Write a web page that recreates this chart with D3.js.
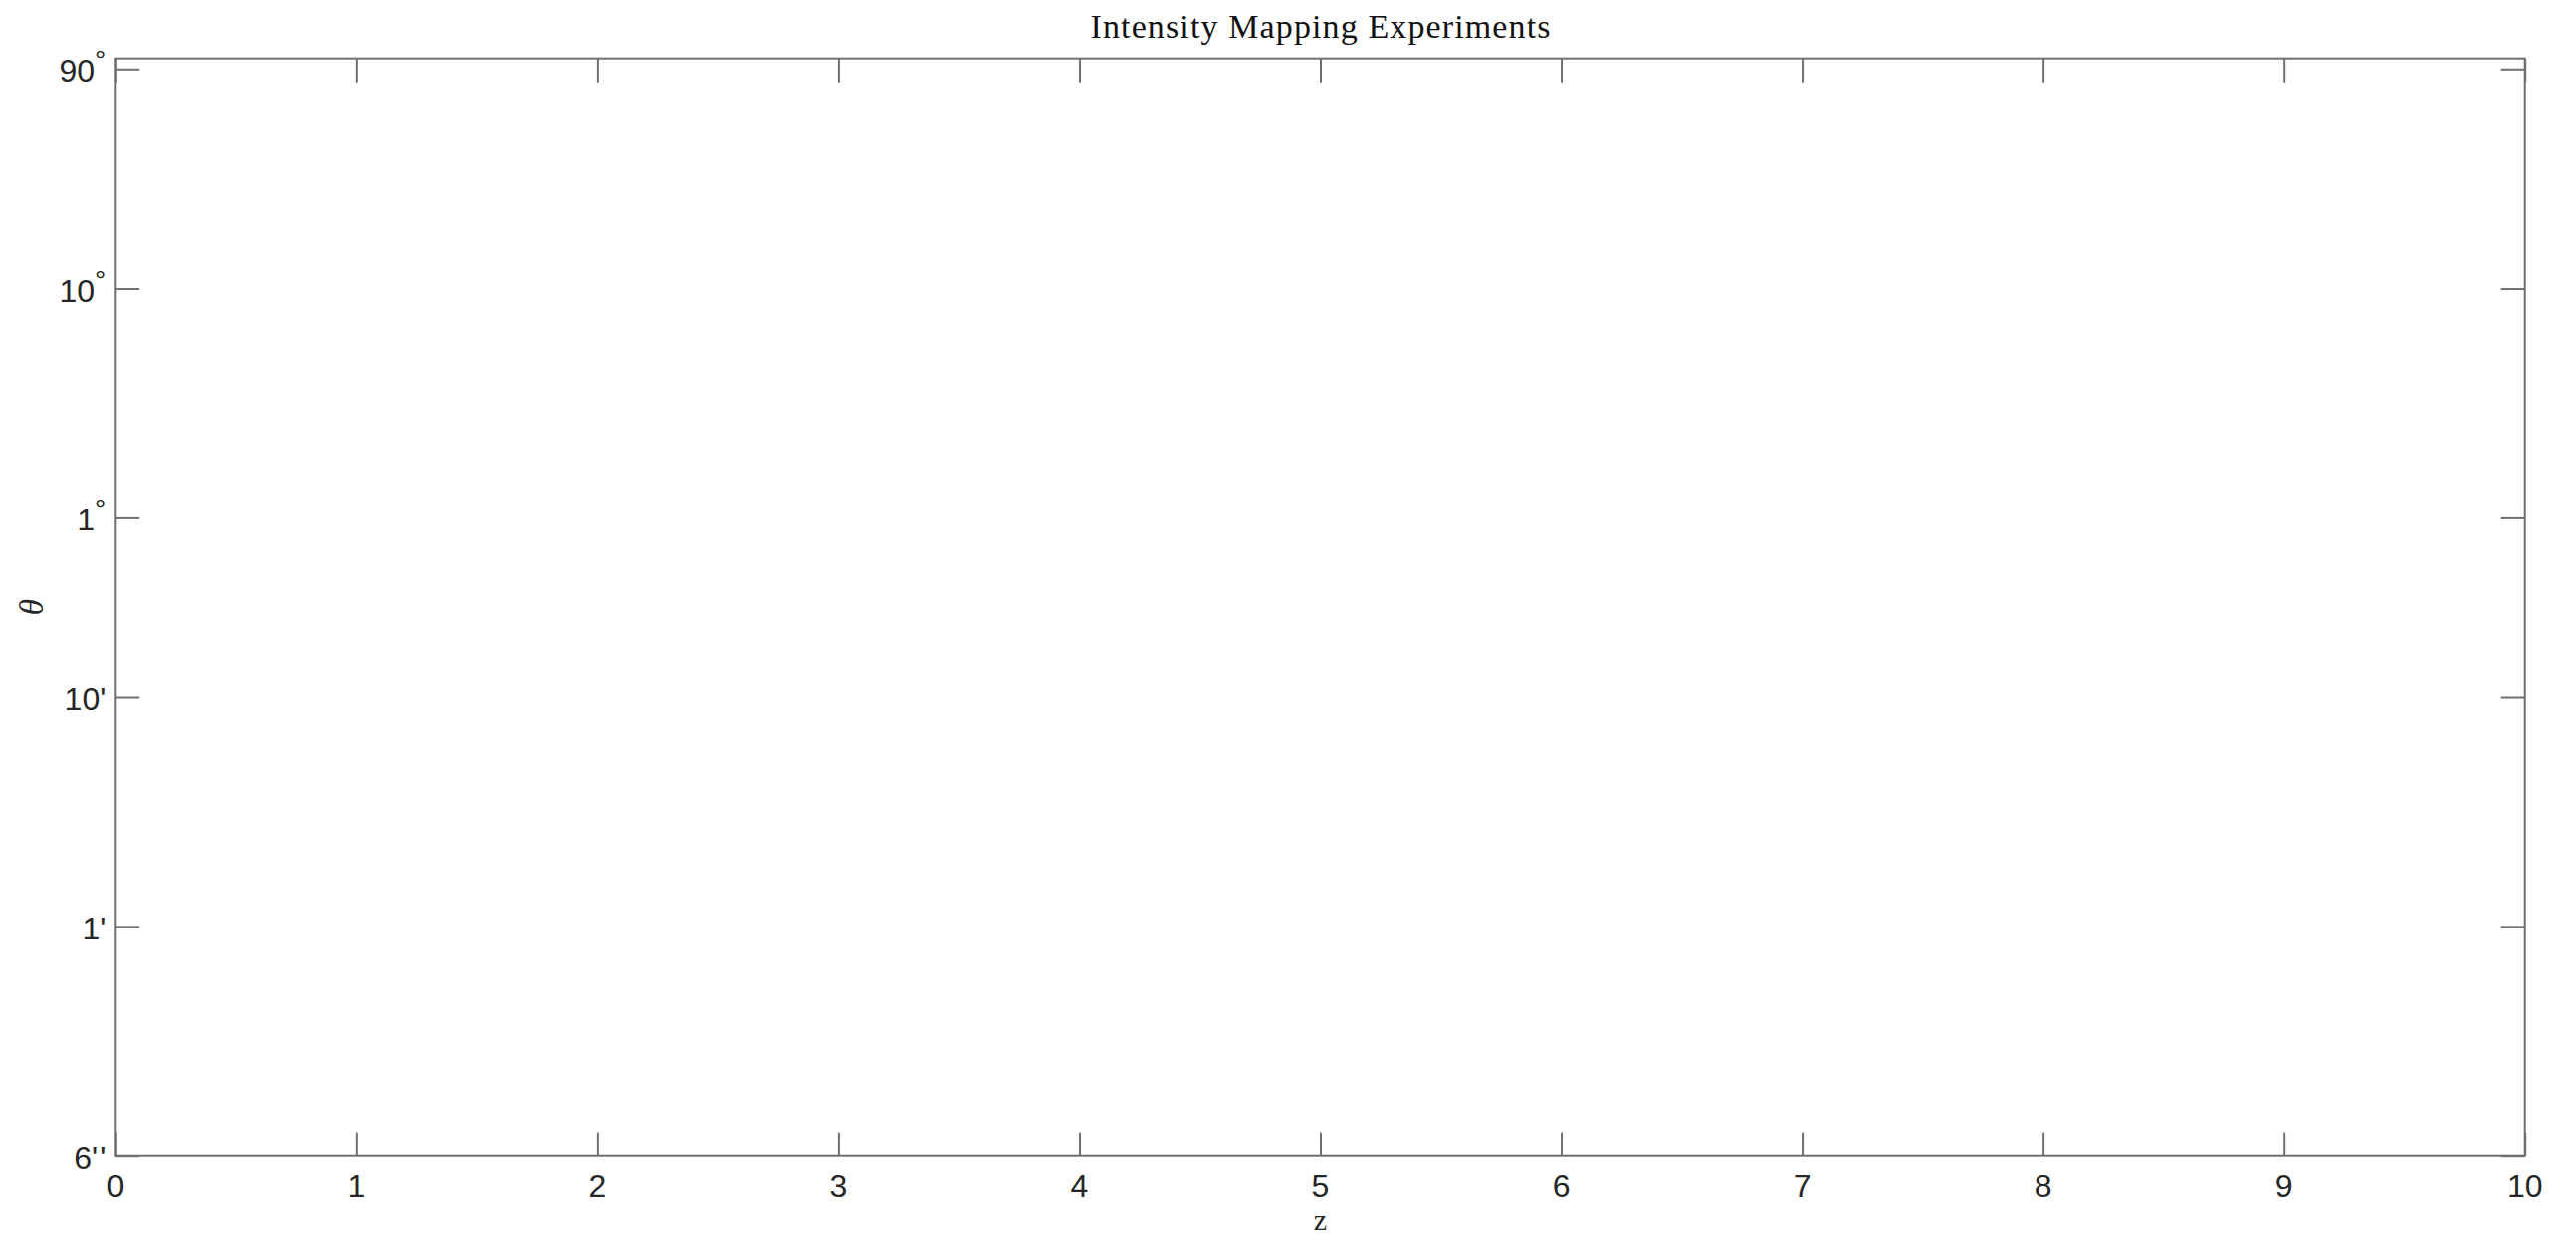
<!DOCTYPE html>
<html>
<head>
<meta charset="utf-8">
<script src="https://cdn.jsdelivr.net/npm/d3@7"></script>
<style>
  html, body { margin: 0; padding: 0; background: #fff; }
  svg { display: block; }
</style>
</head>
<body>
<svg id="chart" width="2588" height="1244"></svg>
<script>
// ---- data ----
const titleText = "Intensity Mapping Experiments";
const xLabel = "z";
const yLabel = "θ";
const xDomain = [0, 10];
const xTicks = [0, 1, 2, 3, 4, 5, 6, 7, 8, 9, 10];
// y in degrees: 6 arcsec .. 100 deg (log)
const yDomain = [6 / 3600, 100];
const yTickValues = [90, 10, 1, 10 / 60, 1 / 60, 6 / 3600];
const yTickNums = ["90", "10", "1", "10", "1", "6"];
const yTickUnits = ["°", "°", "°", "'", "'", "''"];
const experiments = []; // no experiments plotted in the reference

// ---- layout ----
const svg = d3.select("#chart");
const m = { left: 116.3, right: 2536.7, top: 58.7, bottom: 1161.7 };
const x = d3.scaleLinear().domain(xDomain).range([m.left, m.right]);
const y = d3.scaleLog().domain(yDomain).range([m.bottom, m.top]);

const axisColor = "#6f6f6f";
const textColor = "#262626";
const tickLen = 24;

// box
svg.append("rect")
  .attr("x", m.left).attr("y", m.top)
  .attr("width", m.right - m.left).attr("height", m.bottom - m.top)
  .attr("fill", "none").attr("stroke", axisColor).attr("stroke-width", 2);

function styleAxis(g) {
  g.select(".domain").remove();
  g.selectAll(".tick line").attr("stroke", axisColor).attr("stroke-width", 2);
}

// bottom axis
const gx = svg.append("g").attr("transform", `translate(0,${m.bottom})`)
  .call(d3.axisBottom(x).tickValues(xTicks).tickSize(-tickLen).tickFormat(""));
styleAxis(gx);
// top axis
const gxt = svg.append("g").attr("transform", `translate(0,${m.top})`)
  .call(d3.axisTop(x).tickValues(xTicks).tickSize(-tickLen).tickFormat(""));
styleAxis(gxt);
// left axis
const gy = svg.append("g").attr("transform", `translate(${m.left},0)`)
  .call(d3.axisLeft(y).tickValues(yTickValues).tickSize(-tickLen).tickFormat(""));
styleAxis(gy);
// right axis
const gyr = svg.append("g").attr("transform", `translate(${m.right},0)`)
  .call(d3.axisRight(y).tickValues(yTickValues).tickSize(-tickLen).tickFormat(""));
styleAxis(gyr);

// x tick labels
svg.append("g").selectAll("text").data(xTicks).join("text")
  .attr("x", d => x(d))
  .attr("y", m.bottom + 41)
  .attr("text-anchor", "middle")
  .attr("font-family", "Liberation Sans, Arial, sans-serif")
  .attr("font-size", 32)
  .attr("fill", textColor)
  .text(d => d);

// y tick labels
const yl = svg.append("g").selectAll("text").data(yTickValues).join("text")
  .attr("x", m.left - 10)
  .attr("y", d => y(d) + 13)
  .attr("text-anchor", "end")
  .attr("font-family", "Liberation Sans, Arial, sans-serif")
  .attr("font-size", 32)
  .attr("fill", textColor);
yl.each(function(d, i) {
  const t = d3.select(this);
  t.append("tspan").text(yTickNums[i]);
  if (yTickUnits[i] === "°") {
    t.append("tspan").attr("font-size", 28).attr("dy", -12).text("°");
  } else if (yTickUnits[i] === "''") {
    t.append("tspan").text("'");
    t.append("tspan").attr("dx", 2).text("'");
  } else {
    t.append("tspan").text(yTickUnits[i]);
  }
});

// title
svg.append("text")
  .attr("x", (m.left + m.right) / 2)
  .attr("y", 38)
  .attr("text-anchor", "middle")
  .attr("font-family", "Liberation Serif, Times New Roman, serif")
  .attr("font-size", 34)
  .attr("textLength", 462)
  .attr("lengthAdjust", "spacing")
  .attr("fill", "#111")
  .text(titleText);

// x label
svg.append("text")
  .attr("x", (m.left + m.right) / 2)
  .attr("y", 1236)
  .attr("text-anchor", "middle")
  .attr("font-family", "Liberation Serif, Times New Roman, serif")
  .attr("font-size", 30)
  .attr("fill", textColor)
  .text(xLabel);

// y label
svg.append("text")
  .attr("transform", `translate(43,${(m.top + m.bottom) / 2}) rotate(-90)`)
  .attr("text-anchor", "middle")
  .attr("font-family", "Liberation Serif, Times New Roman, serif")
  .attr("font-style", "italic")
  .attr("font-size", 33)
  .attr("fill", textColor)
  .text(yLabel);

// experiments (none in reference)
svg.append("g").selectAll("rect").data(experiments).join("rect");
</script>
</body>
</html>
